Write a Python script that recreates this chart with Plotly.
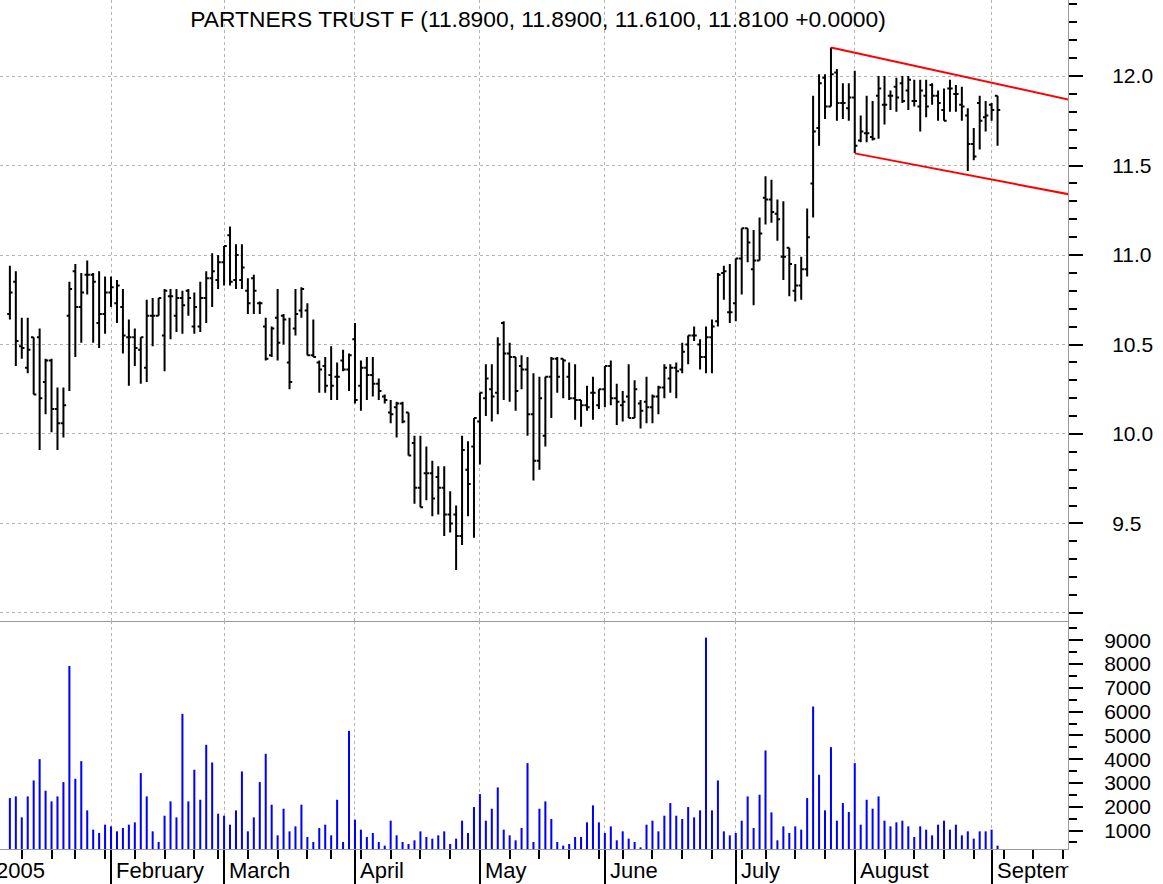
import pandas as pd
import plotly.graph_objects as go

# ---------------- data ----------------
holidays = ["2005-01-17", "2005-02-21", "2005-03-25", "2005-05-30", "2005-07-04"]
first_bar = "2005-01-06"

opens = [10.67, 10.85, 10.49, 10.37, 10.54, 10.54, 10.29, 10.41, 10.14, 10.06,
         10.66, 10.91, 10.71, 10.89, 10.89, 10.62, 10.67, 10.79, 10.73, 10.71,
         10.54, 10.54, 10.47, 10.37, 10.66, 10.66, 10.55, 10.77, 10.66, 10.76,
         10.80, 10.60, 10.60, 10.76, 10.87, 10.86, 10.96, 11.11, 10.86, 10.86,
         10.80, 10.87, 10.73, 10.60, 10.44, 10.65, 10.66, 10.40, 10.59, 10.69,
         10.69, 10.44, 10.40, 10.38, 10.33, 10.32, 10.41, 10.36, 10.53, 10.27,
         10.37, 10.33, 10.28, 10.21, 10.12, 10.15, 10.17, 10.12, 9.95, 9.70,
         9.78, 9.78, 9.76, 9.70, 9.55, 9.55, 9.43, 9.80, 9.93, 10.07,
         10.20, 10.25, 10.23, 10.62, 10.45, 10.43, 10.38, 10.36, 10.11, 9.85,
         9.99, 10.32, 10.42, 10.42, 10.32, 10.20, 10.19, 10.16, 10.23, 10.16,
         10.25, 10.38, 10.20, 10.16, 10.21, 10.09, 10.17, 10.18, 10.15, 10.21,
         10.26, 10.31, 10.37, 10.36, 10.50, 10.55, 10.50, 10.43, 10.54, 10.63,
         10.90, 10.68, 10.73, 10.98, 11.15, 10.92, 10.97, 11.32, 11.31, 11.23,
         10.99, 11.04, 10.80, 10.83, 10.92, 11.40, 11.71, 11.99, 11.83, 12.02,
         11.85, 11.82, 11.88, 11.64, 11.68, 11.66, 11.89, 11.84, 11.89, 11.94,
         11.96, 11.92, 11.86, 11.83, 11.89, 11.95, 11.89, 11.81, 11.93, 11.90,
         11.84, 11.78, 11.62, 11.85, 11.77, 11.84, 11.89]

highs = [10.94, 10.91, 10.65, 10.65, 10.54, 10.59, 10.42, 10.42, 10.26, 10.26,
         10.85, 10.95, 10.90, 10.97, 10.90, 10.91, 10.88, 10.88, 10.86, 10.81,
         10.64, 10.59, 10.54, 10.75, 10.76, 10.76, 10.81, 10.81, 10.81, 10.80,
         10.81, 10.79, 10.85, 10.91, 11.01, 11.00, 11.05, 11.16, 11.06, 11.06,
         10.87, 10.89, 10.74, 10.65, 10.60, 10.81, 10.67, 10.65, 10.81, 10.82,
         10.73, 10.64, 10.41, 10.43, 10.49, 10.40, 10.47, 10.45, 10.62, 10.41,
         10.43, 10.43, 10.31, 10.22, 10.19, 10.18, 10.18, 10.12, 9.99, 9.99,
         9.93, 9.85, 9.82, 9.82, 9.68, 9.60, 9.99, 9.96, 10.09, 10.23,
         10.39, 10.39, 10.54, 10.63, 10.51, 10.43, 10.44, 10.43, 10.34, 10.32,
         10.32, 10.43, 10.43, 10.42, 10.40, 10.39, 10.19, 10.27, 10.32, 10.25,
         10.38, 10.41, 10.28, 10.24, 10.39, 10.30, 10.19, 10.32, 10.22, 10.27,
         10.39, 10.39, 10.40, 10.51, 10.55, 10.60, 10.53, 10.60, 10.64, 10.90,
         10.94, 10.95, 10.98, 11.15, 11.15, 11.14, 11.21, 11.44, 11.42, 11.31,
         11.30, 11.04, 10.95, 10.99, 11.26, 11.89, 12.01, 12.01, 12.16, 12.04,
         11.96, 11.96, 12.03, 11.78, 11.89, 11.86, 12.00, 12.00, 11.92, 11.99,
         12.00, 12.00, 11.98, 11.98, 11.98, 11.96, 11.92, 11.93, 11.98, 11.95,
         11.94, 11.82, 11.71, 11.89, 11.86, 11.85, 11.89]

lows = [10.64, 10.38, 10.42, 10.34, 10.22, 9.91, 10.11, 10.01, 9.91, 9.98,
        10.24, 10.43, 10.51, 10.78, 10.51, 10.48, 10.56, 10.71, 10.62, 10.45,
        10.27, 10.38, 10.28, 10.29, 10.49, 10.66, 10.35, 10.53, 10.57, 10.56,
        10.66, 10.56, 10.57, 10.62, 10.71, 10.81, 10.83, 10.83, 10.81, 10.81,
        10.67, 10.67, 10.67, 10.41, 10.43, 10.41, 10.50, 10.25, 10.55, 10.65,
        10.44, 10.43, 10.23, 10.23, 10.19, 10.19, 10.35, 10.24, 10.17, 10.13,
        10.19, 10.21, 10.19, 10.17, 10.06, 9.98, 10.06, 9.88, 9.61, 9.59,
        9.63, 9.54, 9.55, 9.43, 9.45, 9.24, 9.38, 9.54, 9.42, 9.83,
        10.10, 10.07, 10.11, 10.19, 10.18, 10.13, 10.25, 9.99, 9.74, 9.80,
        9.93, 10.09, 10.23, 10.20, 10.19, 10.08, 10.04, 10.13, 10.08, 10.14,
        10.15, 10.16, 10.05, 10.07, 10.09, 10.09, 10.03, 10.06, 10.06, 10.11,
        10.20, 10.23, 10.20, 10.34, 10.39, 10.52, 10.36, 10.34, 10.34, 10.60,
        10.75, 10.62, 10.63, 10.78, 10.96, 10.72, 10.97, 11.17, 11.18, 11.08,
        10.86, 10.77, 10.74, 10.75, 10.88, 11.21, 11.61, 11.76, 11.83, 11.75,
        11.76, 11.75, 11.57, 11.63, 11.63, 11.64, 11.65, 11.73, 11.81, 11.80,
        11.85, 11.81, 11.83, 11.69, 11.77, 11.84, 11.75, 11.75, 11.80, 11.80,
        11.75, 11.47, 11.53, 11.59, 11.69, 11.75, 11.61]

closes = [10.79, 10.52, 10.48, 10.47, 10.22, 10.20, 10.41, 10.14, 10.06, 10.16,
          10.81, 10.71, 10.79, 10.89, 10.85, 10.67, 10.79, 10.82, 10.83, 10.55,
          10.54, 10.48, 10.54, 10.66, 10.66, 10.76, 10.80, 10.77, 10.76, 10.72,
          10.76, 10.71, 10.76, 10.87, 10.91, 10.96, 11.05, 10.85, 11.00, 10.93,
          10.73, 10.80, 10.73, 10.42, 10.59, 10.51, 10.64, 10.29, 10.67, 10.81,
          10.44, 10.43, 10.36, 10.27, 10.27, 10.32, 10.36, 10.44, 10.19, 10.37,
          10.33, 10.28, 10.24, 10.19, 10.11, 10.17, 10.07, 9.88, 9.70, 9.59,
          9.78, 9.64, 9.70, 9.55, 9.50, 9.43, 9.91, 9.72, 10.09, 10.23,
          10.31, 10.21, 10.50, 10.45, 10.43, 10.24, 10.36, 10.11, 9.85, 10.20,
          10.32, 10.42, 10.32, 10.41, 10.20, 10.19, 10.16, 10.15, 10.23, 10.25,
          10.38, 10.20, 10.18, 10.18, 10.09, 10.25, 10.13, 10.15, 10.21, 10.26,
          10.37, 10.37, 10.35, 10.46, 10.55, 10.55, 10.43, 10.54, 10.60, 10.89,
          10.91, 10.68, 10.98, 11.15, 11.07, 10.97, 11.12, 11.31, 11.24, 11.20,
          10.99, 10.95, 10.83, 10.92, 11.10, 11.69, 11.96, 11.83, 12.01, 11.85,
          11.85, 11.88, 11.61, 11.69, 11.68, 11.65, 11.93, 11.84, 11.89, 11.88,
          11.86, 11.98, 11.86, 11.92, 11.83, 11.89, 11.85, 11.75, 11.93, 11.90,
          11.83, 11.62, 11.55, 11.75, 11.78, 11.81, 11.81]

volumes = [2366, 2436, 1554, 2436, 3108, 4004, 2674, 2226, 2436, 3038,
           7924, 3178, 3920, 1848, 1036, 896, 1246, 1176, 966, 1106,
           1246, 1344, 3416, 2436, 966, 518, 1624, 2226, 1554, 5908,
           2226, 3556, 2296, 4606, 3864, 1708, 1624, 1246, 1848, 3486,
           966, 1554, 3038, 4228, 2086, 798, 1918, 966, 1176, 2086,
           728, 518, 1106, 1246, 798, 2296, 518, 5194, 1456, 1036,
           728, 896, 518, 364, 1414, 798, 518, 434, 588, 966,
           728, 658, 798, 966, 434, 658, 1414, 896, 1988, 2534,
           1414, 1918, 2814, 1036, 798, 588, 1106, 3836, 518, 1918,
           2226, 1484, 518, 364, 434, 728, 728, 1344, 2058, 1344,
           896, 1176, 588, 966, 658, 518, 294, 1246, 1414, 966,
           1624, 2156, 1624, 1484, 1988, 1554, 1848, 9114, 1848, 3108,
           966, 798, 896, 1414, 2436, 1106, 2506, 4368, 1764, 588,
           1176, 896, 1176, 1036, 2366, 6216, 3346, 1848, 4508, 1414,
           2156, 1778, 3836, 1246, 2296, 1918, 2436, 1414, 1176, 1344,
           1414, 1176, 728, 1176, 1036, 798, 1246, 1414, 1036, 1246,
           798, 966, 658, 966, 966, 1036, 364]

month_labels = ["2005", "February", "March", "April", "May", "June",
                "July", "August", "September"]
price_ticks = [9.0, 9.5, 10.0, 10.5, 11.0, 11.5, 12.0]
price_tick_text = ["", "9.5", "10.0", "10.5", "11.0", "11.5", "12.0"]
volume_ticks = [1000, 2000, 3000, 4000, 5000, 6000, 7000, 8000, 9000]
volume_tick_text = [str(v) for v in volume_ticks]

# channel lines (session index, price)
channel_upper_x = [141, 182]
channel_upper_y = [12.16, 11.861]
channel_lower_x = [145, 182]
channel_lower_y = [11.568, 11.333]

title_text = "PARTNERS TRUST F (11.8900, 11.8900, 11.6100, 11.8100 +0.0000)"

assert len(opens) == len(highs) == len(lows) == len(closes) == len(volumes)

# ---------------- session calendar ----------------
days = pd.bdate_range("2005-01-03", "2005-09-30")
days = days[~days.isin(pd.to_datetime(holidays))]
start = int(days.get_loc(pd.Timestamp(first_bar)))
xs = list(range(start, start + len(opens)))

month_idx = []
seen = set()
for i, d in enumerate(days):
    key = (d.year, d.month)
    if key not in seen:
        seen.add(key)
        month_idx.append(i)
month_idx = month_idx[:len(month_labels)]

week_idx = []
seen_w = set()
for i, d in enumerate(days):
    key = d.isocalendar()[:2]
    if key not in seen_w:
        seen_w.add(key)
        if i not in month_idx:
            week_idx.append(i)

x_range = [1.34, 180.84]

FONT = "Liberation Sans, Arial, sans-serif"
GRID = "#b4b4b4"
AXL = "#9a9a9a"

fig = go.Figure()
fig.add_trace(go.Ohlc(
    x=xs, open=opens, high=highs, low=lows, close=closes,
    increasing=dict(line=dict(color="black", width=2)),
    decreasing=dict(line=dict(color="black", width=2)),
    tickwidth=0.45, xaxis="x", yaxis="y", hoverinfo="skip"))
fig.add_trace(go.Scatter(x=channel_upper_x, y=channel_upper_y, mode="lines",
                         line=dict(color="#ff0000", width=2), xaxis="x", yaxis="y",
                         hoverinfo="skip"))
fig.add_trace(go.Scatter(x=channel_lower_x, y=channel_lower_y, mode="lines",
                         line=dict(color="#ff0000", width=2), xaxis="x", yaxis="y",
                         hoverinfo="skip"))
fig.add_trace(go.Bar(x=xs, y=volumes, width=0.34,
                     marker=dict(color="#0000ff", line=dict(width=0)),
                     xaxis="x2", yaxis="y2", hoverinfo="skip"))

split = (849 - 621) / 849

annotations = []
for idx, lab in zip(month_idx, month_labels):
    ann = dict(text=lab, y=-21 / 849, yref="paper", yanchor="middle",
               xanchor="left", showarrow=False,
               font=dict(family=FONT, size=22, color="black"))
    if idx < x_range[0]:
        ann.update(x=(idx - x_range[0]) / (x_range[1] - x_range[0]), xref="paper", xshift=2)
    else:
        ann.update(x=idx, xref="x2", xshift=3)
        room = (x_range[1] - idx) / (x_range[1] - x_range[0]) * 1068 - 5
        if room < 110:
            ann.update(width=room, align="left")
    annotations.append(ann)

fig.update_layout(
    width=1163, height=884,
    margin=dict(l=0, r=95, t=0, b=35),
    paper_bgcolor="white", plot_bgcolor="white",
    showlegend=False, hovermode=False,
    font=dict(family=FONT, size=21, color="black"),
    title=dict(text=title_text, x=538 / 1163, y=1 - 19 / 884,
               xanchor="center", yanchor="middle",
               font=dict(family=FONT, size=22.8, color="black")),
    annotations=annotations,
    xaxis=dict(domain=[0, 1], anchor="y", range=x_range,
               rangeslider=dict(visible=False),
               tickmode="array", tickvals=month_idx, showticklabels=False, ticks="",
               showgrid=True, gridcolor=GRID, griddash="dot", gridwidth=1,
               showline=True, linecolor=AXL, linewidth=1, zeroline=False),
    yaxis=dict(domain=[split, 1], anchor="x", range=[8.955, 12.425], side="right",
               tickmode="array", tickvals=price_ticks, ticktext=price_tick_text,
               ticks="outside", ticklen=14, tickwidth=2, tickcolor="black",
               minor=dict(tickmode="linear", tick0=9.0, dtick=0.1, ticks="outside",
                          ticklen=8, tickwidth=2, tickcolor="black", showgrid=False),
               showgrid=True, gridcolor=GRID, griddash="dot", gridwidth=1,
               showline=True, linecolor=AXL, linewidth=1, zeroline=False,
               tickfont=dict(family=FONT, size=21, color="black"),
               ticklabelstandoff=25),
    xaxis2=dict(domain=[0, 1], anchor="y2", range=x_range,
                tickmode="array", tickvals=month_idx, showticklabels=False,
                ticks="outside", ticklen=35, tickwidth=2, tickcolor="black",
                minor=dict(tickmode="array", tickvals=week_idx, ticks="outside",
                           ticklen=9, tickwidth=2, tickcolor="black", showgrid=False),
                showgrid=True, gridcolor=GRID, griddash="dot", gridwidth=1,
                showline=True, linecolor=AXL, linewidth=1, zeroline=False),
    yaxis2=dict(domain=[0, split], anchor="x2", range=[223, 9815], side="right",
                tickmode="array", tickvals=volume_ticks, ticktext=volume_tick_text,
                ticks="outside", ticklen=14, tickwidth=2, tickcolor="black",
                minor=dict(tickmode="linear", tick0=0, dtick=500, ticks="outside",
                           ticklen=8, tickwidth=2, tickcolor="black", showgrid=False),
                showgrid=False, showline=True, linecolor=AXL, linewidth=1,
                zeroline=False, tickfont=dict(family=FONT, size=21, color="black"),
                ticklabelstandoff=17),
)

fig.write_html("out.html")
